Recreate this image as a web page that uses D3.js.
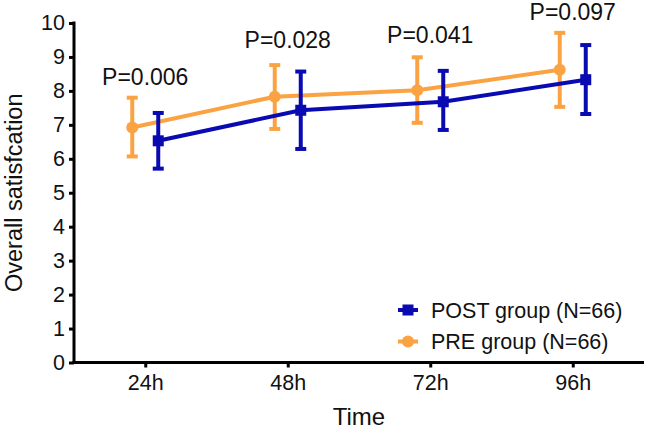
<!DOCTYPE html>
<html>
<head>
<meta charset="utf-8">
<script src="https://cdn.jsdelivr.net/npm/d3@7"></script>
<style>
  html, body { margin: 0; padding: 0; background: #fff; }
  svg { display: block; font-family: "Liberation Sans", Arial, Helvetica, sans-serif; }
</style>
</head>
<body>
<svg id="chart" width="646" height="431"></svg>
<script>
// ---- data ----
const categories = ["24h", "48h", "72h", "96h"];
const preMean  = [6.92, 7.83, 8.02, 8.62];
const preLow   = [6.07, 6.88, 7.06, 7.53];
const preHigh  = [7.80, 8.76, 8.99, 9.71];
const postMean = [6.53, 7.43, 7.68, 8.33];
const postLow  = [5.71, 6.29, 6.85, 7.32];
const postHigh = [7.35, 8.57, 8.59, 9.35];
const pLabels  = ["P=0.006", "P=0.028", "P=0.041", "P=0.097"];
const pLabelAt = [8.17, 9.26, 9.40, 10.08];
const yTicks   = [0, 1, 2, 3, 4, 5, 6, 7, 8, 9, 10];
const seriesNames = ["POST group (N=66)", "PRE group (N=66)"];

// ---- layout ----
const svg = d3.select("#chart");
const mLeft = 74, mRight = 644, mTop = 23, mBottom = 362.5;
const BLUE = "#0a0ab2", ORANGE = "#fba343";
const offset = 13;

const x = d3.scalePoint().domain(categories).range([mLeft, mRight]).padding(0.5);
const y = d3.scaleLinear().domain([0, 10]).range([mBottom, mTop]);

// axes
const yAxis = svg.append("g").attr("transform", `translate(${mLeft},0)`)
  .call(d3.axisLeft(y).tickValues(yTicks).tickSize(5).tickPadding(4).tickSizeOuter(0));
const xAxis = svg.append("g").attr("transform", `translate(0,${mBottom})`)
  .call(d3.axisBottom(x).tickSize(5).tickPadding(7).tickSizeOuter(0));
[yAxis, xAxis].forEach(g => {
  g.select(".domain").attr("stroke", "#000").attr("stroke-width", 3);
  g.selectAll(".tick line").attr("stroke", "#000").attr("stroke-width", 3);
  g.selectAll(".tick text").attr("fill", "#111").attr("font-size", 21.5)
    .attr("font-family", "Liberation Sans, Arial, sans-serif");
});
yAxis.select(".domain").attr("d", `M0,${mTop - 1.5}V${mBottom + 1.5}`);
xAxis.select(".domain").attr("d", `M${mLeft - 1.5},0H${mRight}`);

// axis titles
svg.append("text").attr("x", (mLeft + mRight) / 2).attr("y", 425)
  .attr("text-anchor", "middle").attr("font-size", 24).attr("fill", "#111").text("Time");
svg.append("text")
  .attr("transform", `translate(22,${(mTop + mBottom) / 2}) rotate(-90)`)
  .attr("text-anchor", "middle").attr("font-size", 23.5).attr("fill", "#111")
  .text("Overall satisfcation");

// series drawing
function drawSeries(mean, low, high, color, dx, shape) {
  const g = svg.append("g");
  const line = d3.line().x((d, i) => x(categories[i]) + dx).y(d => y(d));
  g.append("path").datum(mean).attr("d", line).attr("fill", "none")
    .attr("stroke", color).attr("stroke-width", 4);
  categories.forEach((c, i) => {
    const cx = x(c) + dx;
    g.append("line").attr("x1", cx).attr("x2", cx).attr("y1", y(low[i])).attr("y2", y(high[i]))
      .attr("stroke", color).attr("stroke-width", 4);
    [low[i], high[i]].forEach(v => {
      g.append("line").attr("x1", cx - 5.5).attr("x2", cx + 5.5).attr("y1", y(v)).attr("y2", y(v))
        .attr("stroke", color).attr("stroke-width", 4);
    });
    if (shape === "square") {
      g.append("rect").attr("x", cx - 5.5).attr("y", y(mean[i]) - 5.5).attr("width", 11).attr("height", 11)
        .attr("fill", color);
    } else {
      g.append("circle").attr("cx", cx).attr("cy", y(mean[i])).attr("r", 6).attr("fill", color);
    }
  });
}
drawSeries(preMean, preLow, preHigh, ORANGE, -offset, "circle");
drawSeries(postMean, postLow, postHigh, BLUE, offset, "square");

// p-value labels
categories.forEach((c, i) => {
  svg.append("text").attr("x", x(c)).attr("y", y(pLabelAt[i]))
    .attr("text-anchor", "middle").attr("font-size", 23).attr("fill", "#111").text(pLabels[i]);
});

// legend
const legend = svg.append("g");
const legColors = [BLUE, ORANGE];
const legShapes = ["square", "circle"];
const legY = [310, 341.5];
seriesNames.forEach((name, i) => {
  const cy = legY[i];
  legend.append("line").attr("x1", 398).attr("x2", 418).attr("y1", cy).attr("y2", cy)
    .attr("stroke", legColors[i]).attr("stroke-width", 4);
  if (legShapes[i] === "square") {
    legend.append("rect").attr("x", 408 - 5.5).attr("y", cy - 5.5).attr("width", 11).attr("height", 11)
      .attr("fill", legColors[i]);
  } else {
    legend.append("circle").attr("cx", 408).attr("cy", cy).attr("r", 6).attr("fill", legColors[i]);
  }
  legend.append("text").attr("x", 431).attr("y", cy + 7.5).attr("font-size", 21.5)
    .attr("fill", "#111").text(name);
});
</script>
</body>
</html>
